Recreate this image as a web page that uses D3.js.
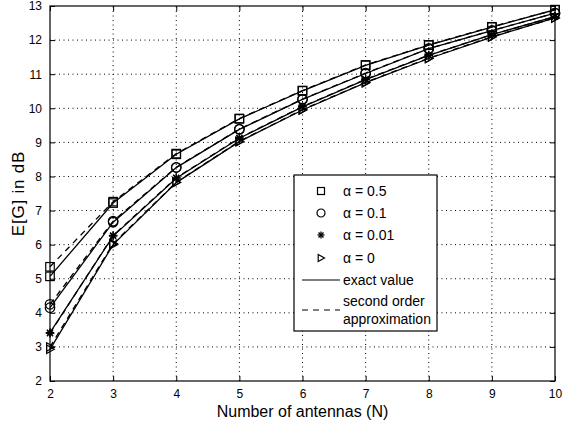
<!DOCTYPE html>
<html>
<head>
<meta charset="utf-8">
<script src="https://cdnjs.cloudflare.com/ajax/libs/d3/7.8.5/d3.min.js"></script>
<style>
  body { margin: 0; background: #fff; }
  text { font-family: "Liberation Sans", Arial, Helvetica, sans-serif; fill: #000; }
</style>
</head>
<body>
<div id="chart"></div>
<script>
'use strict';

const w = 563;
const h = 428;

// number of antennas (x axis)
const antennas = [2, 3, 4, 5, 6, 7, 8, 9, 10];
const xTicks = [2, 3, 4, 5, 6, 7, 8, 9, 10];
const yTicks = [2, 3, 4, 5, 6, 7, 8, 9, 10, 11, 12, 13];

const alphaLabels = ["α = 0.5", "α = 0.1", "α = 0.01", "α = 0"];
const markerTypes = ["square", "circle", "star", "triangle"];

// exact value curves, E[G] in dB
const exactA05 = [5.07, 7.22, 8.65, 9.69, 10.51, 11.26, 11.85, 12.38, 12.89];
const exactA01 = [4.15, 6.66, 8.26, 9.38, 10.26, 11.02, 11.75, 12.28, 12.79];
const exactA001 = [3.42, 6.25, 7.95, 9.12, 10.04, 10.84, 11.55, 12.16, 12.69];
const exactA0 = [2.93, 6.00, 7.82, 9.02, 9.95, 10.75, 11.46, 12.09, 12.65];

// second order approximation curves
const approxA05 = [5.35, 7.26, 8.67, 9.70, 10.52, 11.27, 11.86, 12.39, 12.89];
const approxA01 = [4.25, 6.69, 8.27, 9.39, 10.27, 11.03, 11.75, 12.28, 12.79];
const approxA001 = [3.40, 6.27, 7.96, 9.13, 10.05, 10.85, 11.56, 12.16, 12.69];
const approxA0 = [3.00, 6.03, 7.83, 9.03, 9.96, 10.76, 11.47, 12.10, 12.65];

const exactSeries = [exactA05, exactA01, exactA001, exactA0];
const approxSeries = [approxA05, approxA01, approxA001, approxA0];

const margin = { top: 6, right: 8, bottom: 47, left: 50 };

const svg = d3.select("#chart").append("svg").
attr("width", w).
attr("height", h);

const x = d3.scaleLinear().
domain([2, 10]).
range([margin.left, w - margin.right]);

const y = d3.scaleLinear().
domain([2, 13]).
range([h - margin.bottom, margin.top]);

//Dotted grid
svg.append("g").
selectAll("line").
data(xTicks.slice(1, -1)).
enter().
append("line").
attr("x1", d => x(d)).
attr("x2", d => x(d)).
attr("y1", y(2)).
attr("y2", y(13)).
attr("stroke", "#000").
attr("stroke-width", 1).
attr("stroke-dasharray", "1,3.5");

svg.append("g").
selectAll("line").
data(yTicks.slice(1, -1)).
enter().
append("line").
attr("x1", x(2)).
attr("x2", x(10)).
attr("y1", d => y(d)).
attr("y2", d => y(d)).
attr("stroke", "#000").
attr("stroke-width", 1).
attr("stroke-dasharray", "1,3.5");

//Axes, ticks pointing inwards on all four sides
const tickLen = 5;
svg.append("g").
attr("transform", "translate(0," + y(2) + ")").
call(d3.axisBottom(x).tickValues(xTicks).tickSizeInner(-tickLen).tickSizeOuter(0).tickPadding(8)).
call(g => g.select(".domain").remove());

svg.append("g").
attr("transform", "translate(0," + y(13) + ")").
call(d3.axisTop(x).tickValues(xTicks).tickSizeInner(-tickLen).tickSizeOuter(0).tickFormat("")).
call(g => g.select(".domain").remove());

svg.append("g").
attr("transform", "translate(" + x(2) + ",0)").
call(d3.axisLeft(y).tickValues(yTicks).tickSizeInner(-tickLen).tickSizeOuter(0).tickPadding(8)).
call(g => g.select(".domain").remove());

svg.append("g").
attr("transform", "translate(" + x(10) + ",0)").
call(d3.axisRight(y).tickValues(yTicks).tickSizeInner(-tickLen).tickSizeOuter(0).tickFormat("")).
call(g => g.select(".domain").remove());

svg.selectAll(".tick text").
attr("font-size", 12).
attr("font-family", "Liberation Sans, Arial, sans-serif").
attr("fill", "#000");

svg.selectAll(".tick line").
attr("stroke", "#000");

//Box
svg.append("rect").
attr("x", x(2)).
attr("y", y(13)).
attr("width", x(10) - x(2)).
attr("height", y(2) - y(13)).
attr("fill", "none").
attr("stroke", "#000").
attr("stroke-width", 1.2);

//Curves
const line = d3.line().
x((d, i) => x(antennas[i])).
y(d => y(d));

svg.append("g").
selectAll("path").
data(exactSeries).
enter().
append("path").
attr("d", line).
attr("fill", "none").
attr("stroke", "#000").
attr("stroke-width", 1.3);

svg.append("g").
selectAll("path").
data(approxSeries).
enter().
append("path").
attr("d", line).
attr("fill", "none").
attr("stroke", "#000").
attr("stroke-width", 1.3).
attr("stroke-dasharray", "6,5");

//Markers
function drawMarker(g, type, size) {
  const s = size;
  if (type === "square") {
    g.append("rect").
    attr("x", -s / 2).attr("y", -s / 2).
    attr("width", s).attr("height", s).
    attr("fill", "none").attr("stroke", "#000").attr("stroke-width", 1.2);
  } else if (type === "circle") {
    g.append("circle").
    attr("r", s / 2 + 0.5).
    attr("fill", "none").attr("stroke", "#000").attr("stroke-width", 1.2);
  } else if (type === "star") {
    const r = s / 2;
    [0, 45, 90, 135].forEach(a => {
      const rad = a * Math.PI / 180;
      g.append("line").
      attr("x1", -r * Math.cos(rad)).attr("y1", -r * Math.sin(rad)).
      attr("x2", r * Math.cos(rad)).attr("y2", r * Math.sin(rad)).
      attr("stroke", "#000").attr("stroke-width", 1.3);
    });
  } else {
    const r = s / 2;
    g.append("path").
    attr("d", "M" + (-r * 0.8) + "," + (-r) + "L" + r + ",0L" + (-r * 0.8) + "," + r + "Z").
    attr("fill", "none").attr("stroke", "#000").attr("stroke-width", 1.2);
  }
}

[exactSeries, approxSeries].forEach(series => {
  series.forEach((vals, k) => {
    vals.forEach((v, i) => {
      const g = svg.append("g").
      attr("transform", "translate(" + x(antennas[i]) + "," + y(v) + ")");
      drawMarker(g, markerTypes[k], 8.5);
    });
  });
});

//Axis labels
svg.append("text").
attr("x", (x(2) + x(10)) / 2).
attr("y", 417).
attr("text-anchor", "middle").
attr("font-size", 16).
text("Number of antennas (N)");

svg.append("text").
attr("transform", "translate(24," + (y(2) + y(13)) / 2 + ") rotate(-90)").
attr("text-anchor", "middle").
attr("font-size", 17).
attr("letter-spacing", 0.8).
text("E[G] in dB");

//LEGEND
const legend = svg.append("g").
attr("transform", "translate(294,175)");

legend.append("rect").
attr("width", 143).
attr("height", 156).
attr("fill", "#fff").
attr("stroke", "#000").
attr("stroke-width", 1.2);

const legendRowY = [16, 38, 60, 83];
const legendItems = legend.selectAll("g.legendItem").
data(alphaLabels).
enter().
append("g").
classed("legendItem", true).
attr("transform", (d, i) => "translate(0," + legendRowY[i] + ")");

legendItems.each(function (d, i) {
  const m = d3.select(this).append("g").attr("transform", "translate(27,0)");
  drawMarker(m, markerTypes[i], 7);
});

legendItems.append("text").
attr("x", 49).
attr("y", 5).
attr("font-size", 14).
text(d => d);

legend.append("line").
attr("x1", 8).attr("x2", 46).
attr("y1", 105).attr("y2", 105).
attr("stroke", "#000").attr("stroke-width", 1.2);

legend.append("text").
attr("x", 49).attr("y", 110).
attr("font-size", 14).
text("exact value");

legend.append("line").
attr("x1", 8).attr("x2", 46).
attr("y1", 135).attr("y2", 135).
attr("stroke", "#000").attr("stroke-width", 1.2).
attr("stroke-dasharray", "6,5");

legend.append("text").
attr("x", 49).attr("y", 131).
attr("font-size", 14).
text("second order");

legend.append("text").
attr("x", 49).attr("y", 149).
attr("font-size", 14).
text("approximation");
</script>
</body>
</html>
